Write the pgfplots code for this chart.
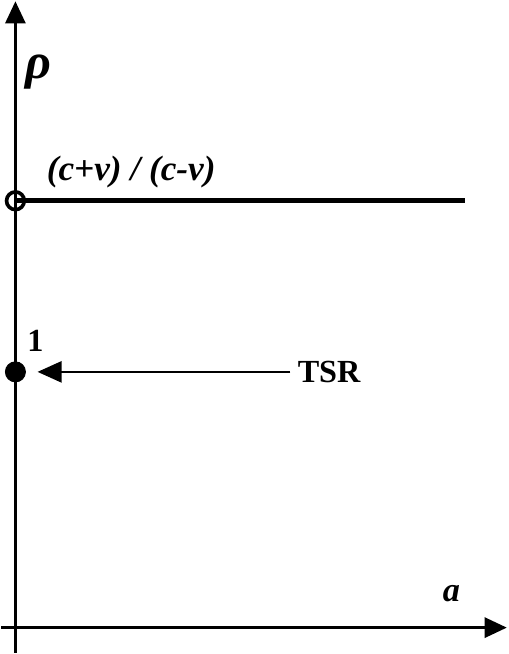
\documentclass[border=0pt]{standalone}
\usepackage{fontspec}
\setmainfont{Liberation Serif}
\usepackage{pgfplots}
\pgfplotsset{compat=1.18}
\usetikzlibrary{arrows.meta}
\begin{document}
\begin{tikzpicture}
\begin{axis}[
  scale only axis, width=253.5pt, height=327pt,
  xmin=-0.17, xmax=4.90, ymin=-0.106, ymax=2.469,
  hide axis, clip=false,
]
% axes
\addplot[black, line width=1.3pt, -{Triangle[length=11pt,width=10pt]}] coordinates {(-0.14,0) (4.88,0)};
\addplot[black, line width=1.3pt, -{Triangle[length=11pt,width=10pt]}] coordinates {(0,-0.098) (0,2.449)};
% rho = (c+v)/(c-v) line
\addplot[black, line width=2.6pt] coordinates {(0,1.669) (4.46,1.669)};
% TSR arrow
\addplot[black, line width=1.2pt, -{Triangle[length=12pt,width=10.5pt]}] coordinates {(2.73,1) (0.22,1)};
% markers
\addplot[only marks, mark=*, mark size=5pt, black] coordinates {(0,1)};
\addplot[only marks, mark=o, mark size=4.4pt, line width=1.8pt, black, mark options={fill=white}] coordinates {(0,1.669)};
% labels
\node at (axis cs:0.23,2.173) {\fontsize{25}{28}\selectfont\bfseries\itshape ρ};
\node at (axis cs:1.15,1.78) {\fontsize{17.5}{20}\selectfont\bfseries\itshape (c+v) / (c-v)};
\node at (axis cs:0.20,1.122) {\fontsize{16}{19}\selectfont\bfseries 1};
\node[anchor=west, inner sep=0pt] at (axis cs:2.80,1.0) {\fontsize{16}{19}\selectfont\bfseries TSR};
\node at (axis cs:4.33,0.134) {\fontsize{17}{20}\selectfont\bfseries\itshape a};
\end{axis}
\end{tikzpicture}
\end{document}
